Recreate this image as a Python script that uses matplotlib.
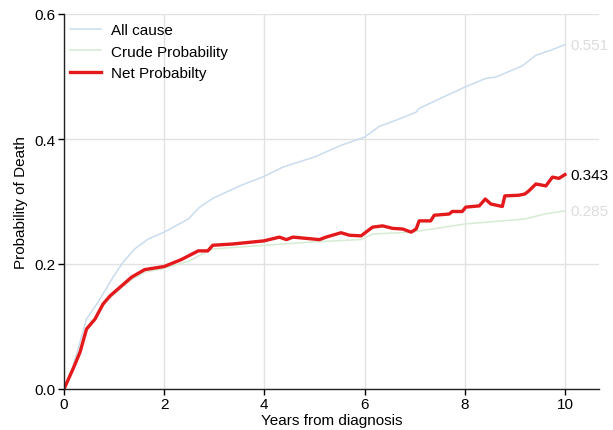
import matplotlib
matplotlib.use("Agg")
import matplotlib.pyplot as plt

plt.rcParams["font.family"] = ["Liberation Sans", "DejaVu Sans"]

# All-cause probability of death
years_all = [0, 0.18, 0.45, 0.68, 0.98, 1.18, 1.41, 1.68, 2.0, 2.48, 2.71, 2.97,
             3.51, 3.99, 4.37, 5.03, 5.50, 6.0, 6.29, 6.69, 7.03, 7.09, 7.49,
             8.0, 8.42, 8.62, 9.15, 9.42, 9.75, 10.0]
all_cause = [0, 0.036, 0.112, 0.139, 0.179, 0.203, 0.224, 0.240, 0.251, 0.272,
             0.291, 0.305, 0.325, 0.340, 0.355, 0.372, 0.389, 0.403, 0.420,
             0.432, 0.443, 0.449, 0.464, 0.483, 0.497, 0.499, 0.517, 0.534,
             0.543, 0.551]

# Crude probability
years_crude = [0, 0.185, 0.32, 0.45, 0.62, 0.78, 0.92, 1.12, 1.35, 1.61, 2.0,
               2.5, 2.71, 2.97, 4.0, 5.1, 5.93, 6.16, 6.69, 6.95, 8.0, 8.6,
               9.2, 9.6, 10.0]
crude = [0, 0.033, 0.059, 0.096, 0.111, 0.134, 0.146, 0.160, 0.175, 0.187,
         0.193, 0.205, 0.214, 0.224, 0.230, 0.236, 0.239, 0.248, 0.250, 0.251,
         0.264, 0.268, 0.272, 0.280, 0.285]

# Net probability
years_net = [0, 0.185, 0.32, 0.45, 0.62, 0.78, 0.92, 1.12, 1.35, 1.61, 2.0,
             2.34, 2.68, 2.87, 2.97, 3.37, 3.99, 4.30, 4.44, 4.57, 5.10, 5.23,
             5.53, 5.70, 5.93, 6.16, 6.36, 6.56, 6.76, 6.93, 7.03, 7.09, 7.32,
             7.39, 7.69, 7.75, 7.95, 8.02, 8.29, 8.41, 8.52, 8.75, 8.80, 9.08,
             9.20, 9.28, 9.42, 9.62, 9.75, 9.88, 10.0]
net = [0, 0.033, 0.059, 0.096, 0.112, 0.136, 0.149, 0.163, 0.179, 0.191,
       0.196, 0.207, 0.221, 0.221, 0.230, 0.232, 0.237, 0.243, 0.239, 0.243,
       0.239, 0.243, 0.250, 0.246, 0.245, 0.259, 0.261, 0.257, 0.256, 0.251,
       0.256, 0.269, 0.269, 0.278, 0.280, 0.284, 0.284, 0.291, 0.293, 0.304,
       0.296, 0.292, 0.309, 0.310, 0.312, 0.317, 0.328, 0.325, 0.339, 0.337,
       0.343]

x_ticks = [0, 2, 4, 6, 8, 10]
y_ticks = [0.0, 0.2, 0.4, 0.6]

fs = 11

fig = plt.figure(figsize=(6.13, 4.31), dpi=100)
ax = fig.add_axes([64 / 613, 41 / 431, (599 - 64) / 613, (390 - 15) / 431])

ax.plot(years_all, all_cause, color="#c9dcee", lw=1.1, label="All cause")
ax.plot(years_crude, crude, color="#d6ebd3", lw=1.1, label="Crude Probability")
ax.plot(years_net, net, color="#e3191c", lw=2.4, label="Net Probabilty")

ax.text(years_all[-1] + 0.1, all_cause[-1], f"{all_cause[-1]:.3f}",
        color="#dcdcdc", fontsize=fs, va="center", ha="left")
ax.text(years_net[-1] + 0.1, net[-1], f"{net[-1]:.3f}",
        color="black", fontsize=fs, va="center", ha="left")
ax.text(years_crude[-1] + 0.1, crude[-1], f"{crude[-1]:.3f}",
        color="#dcdcdc", fontsize=fs, va="center", ha="left")

ax.set_xlim(0, 10.68)
ax.set_ylim(0, 0.6)
ax.set_xticks(x_ticks)
ax.set_yticks(y_ticks)
ax.set_yticklabels([f"{v:.1f}" for v in y_ticks])
ax.tick_params(labelsize=fs, length=4, width=1, color="black", pad=2)
ax.grid(True, color="#e2e2e2", lw=1)
ax.set_axisbelow(True)

for side in ["top", "right"]:
    ax.spines[side].set_visible(False)
for side in ["left", "bottom"]:
    ax.spines[side].set_color("#222222")
    ax.spines[side].set_linewidth(1)

ax.set_xlabel("Years from diagnosis", fontsize=fs, labelpad=1)
ax.set_ylabel("Probability of Death", fontsize=fs, labelpad=5)

ax.legend(loc="upper left", frameon=False, fontsize=fs, handlelength=2.0,
          handletextpad=0.7, borderaxespad=0, borderpad=0.4,
          labelspacing=0.5, bbox_to_anchor=(0.0, 0.992))

fig.savefig("out.png", dpi=100)
